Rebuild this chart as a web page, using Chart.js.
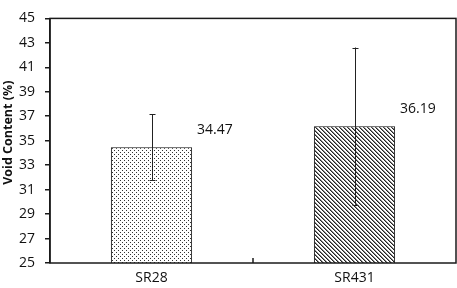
<!DOCTYPE html>
<html>
<head>
<meta charset="utf-8">
<script src="https://cdn.jsdelivr.net/npm/chart.js@4"></script>
<style>
    html, body { margin: 0; padding: 0; background: #fff; }
    #wrap { width: 457px; height: 288px; }
</style>
</head>
<body>
<div id="wrap"><canvas id="chart" width="457" height="288"></canvas></div>
<script>
// ===== Void Content bar chart =====

const categories = ['SR28', 'SR431'];
const voidContent = [34.47, 36.19];
const voidError = [2.71, 6.43];
const yTicks = { min: 25, max: 45, step: 2 };
const yTitle = 'Void Content (%)';

const FONT = '"Open Sans", "Liberation Sans", sans-serif';

// dotted fill for the first bar
function makeDotPattern() {
    const c = document.createElement('canvas');
    c.width = 4; c.height = 4;
    const g = c.getContext('2d');
    g.fillStyle = '#fff';
    g.fillRect(0, 0, 4, 4);
    g.fillStyle = '#333';
    g.fillRect(0, 0, 1, 1);
    g.fillRect(2, 2, 1, 1);
    return g.createPattern(c, 'repeat');
}

// "\\\\" hatching for the second bar
function makeHatchPattern() {
    const c = document.createElement('canvas');
    c.width = 4; c.height = 4;
    const g = c.getContext('2d');
    g.fillStyle = '#fff';
    g.fillRect(0, 0, 4, 4);
    g.fillStyle = '#222';
    for (let i = 0; i < 4; i++) {
        g.fillRect(i, i, 1, 1);
    }
    g.fillStyle = '#888';
    for (let i = 0; i < 4; i++) {
        g.fillRect((i + 1) % 4, i, 1, 1);
    }
    return g.createPattern(c, 'repeat');
}

// frame, middle category tick, error bars, value labels, y title
const extrasPlugin = {
    id: 'extras',
    afterDatasetsDraw(chart) {
        const ctx = chart.ctx;
        const area = chart.chartArea;
        const x = chart.scales.x;
        const y = chart.scales.y;
        const meta = chart.getDatasetMeta(0);

        ctx.save();
        ctx.strokeStyle = '#1a1a1a';
        ctx.lineWidth = 1.5;
        ctx.strokeRect(area.left, area.top, area.right - area.left, area.bottom - area.top);

        // tick between the two categories, pointing into the plot
        const mid = (x.getPixelForValue(0) + x.getPixelForValue(1)) / 2;
        ctx.beginPath();
        ctx.moveTo(mid, area.bottom);
        ctx.lineTo(mid, area.bottom - 5);
        ctx.stroke();

        // error bars
        ctx.lineWidth = 1;
        ctx.strokeStyle = '#222';
        meta.data.forEach((bar, i) => {
            const top = y.getPixelForValue(voidContent[i] + voidError[i]);
            const bot = y.getPixelForValue(voidContent[i] - voidError[i]);
            const cx = Math.round(bar.x) + 0.5;
            ctx.beginPath();
            ctx.moveTo(cx, top);
            ctx.lineTo(cx, bot);
            ctx.moveTo(cx - 3, Math.round(top) + 0.5);
            ctx.lineTo(cx + 3, Math.round(top) + 0.5);
            ctx.moveTo(cx - 3, Math.round(bot) + 0.5);
            ctx.lineTo(cx + 3, Math.round(bot) + 0.5);
            ctx.stroke();
        });

        // value labels to the upper right of each bar
        ctx.fillStyle = '#111';
        ctx.font = '14px ' + FONT;
        ctx.textAlign = 'left';
        ctx.textBaseline = 'middle';
        meta.data.forEach((bar, i) => {
            ctx.fillText(voidContent[i].toFixed(2), bar.x + bar.width / 2 + 5, bar.y - 17);
        });

        // rotated axis title
        ctx.font = 'bold 12.5px ' + FONT;
        ctx.textAlign = 'center';
        ctx.translate(8, (area.top + area.bottom) / 2 - 8);
        ctx.rotate(-Math.PI / 2);
        ctx.fillText(yTitle, 0, 0);
        ctx.restore();
    }
};

const ctx = document.getElementById('chart');
new Chart(ctx, {
    type: 'bar',
    data: {
        labels: categories,
        datasets: [{
            data: voidContent,
            backgroundColor: [makeDotPattern(), makeHatchPattern()],
            borderColor: '#111',
            borderWidth: 1,
            borderSkipped: false,
            barPercentage: 0.4,
            categoryPercentage: 1.0
        }]
    },
    options: {
        responsive: false,
        animation: false,
        layout: { padding: { left: 0, top: 5, right: 1, bottom: 0 } },
        plugins: {
            legend: { display: false },
            tooltip: { enabled: false }
        },
        scales: {
            x: {
                grid: { display: false, drawTicks: false },
                border: { display: false },
                ticks: {
                    color: '#111',
                    padding: 7,
                    font: { family: FONT, size: 14 }
                },
                afterFit(scale) { scale.height = 25; }
            },
            y: {
                min: yTicks.min,
                max: yTicks.max,
                grid: {
                    drawOnChartArea: false,
                    drawTicks: true,
                    tickLength: 5,
                    color: '#1a1a1a',
                    lineWidth: 1.5
                },
                border: { display: true, color: '#1a1a1a', width: 1.5 },
                ticks: {
                    stepSize: yTicks.step,
                    color: '#111',
                    padding: 10,
                    font: { family: FONT, size: 14 }
                },
                afterFit(scale) { scale.width = 50; }
            }
        }
    },
    plugins: [extrasPlugin]
});
</script>
</body>
</html>
